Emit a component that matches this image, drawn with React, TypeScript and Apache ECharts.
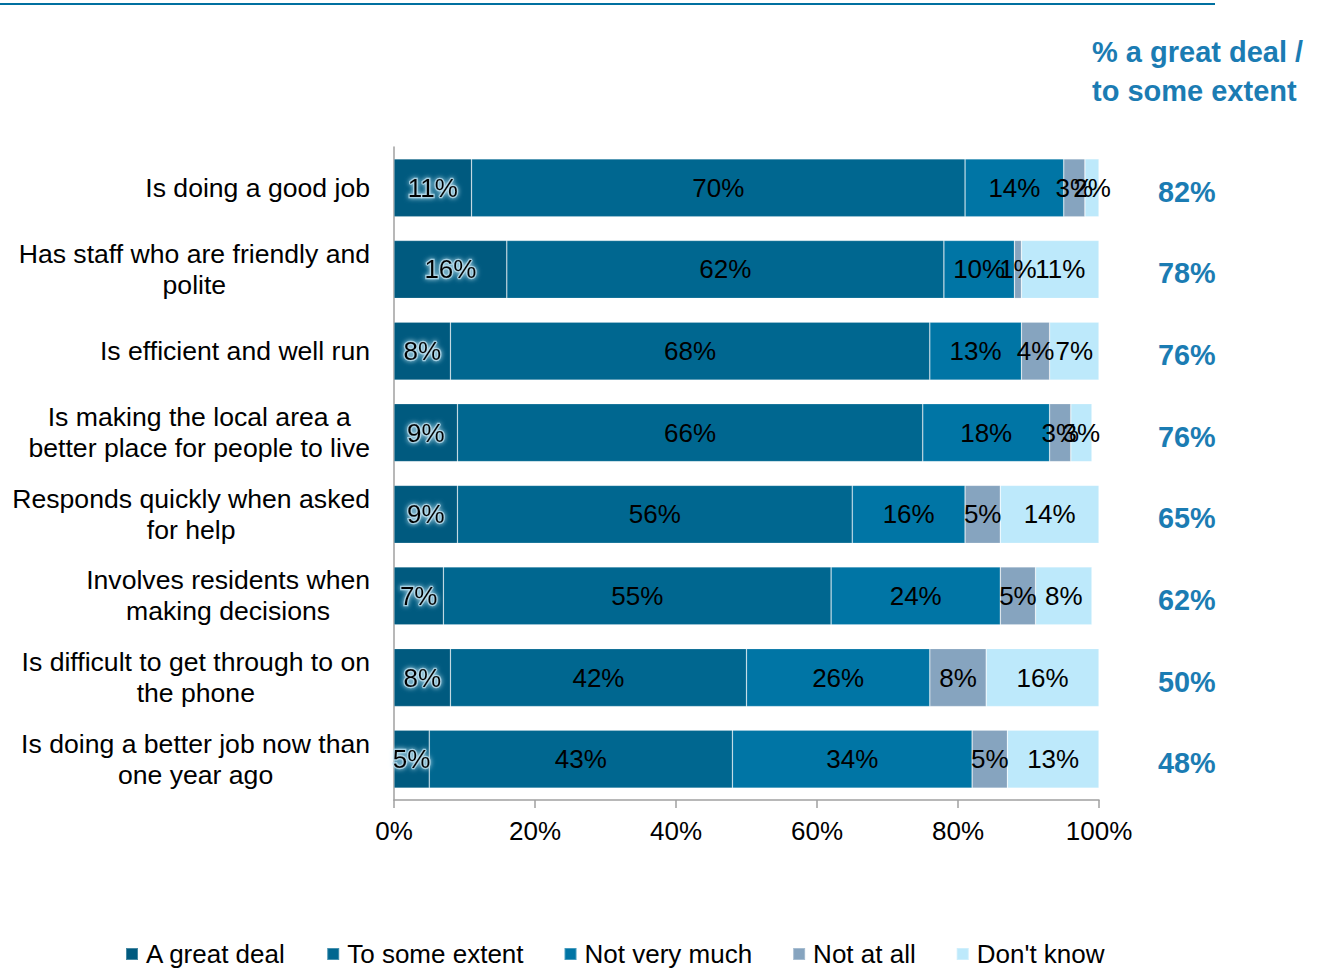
import React, { useEffect, useRef } from "react";
import * as echarts from "echarts";

const categories = [
  "Is doing a good job",
  "Has staff who are friendly and\npolite",
  "Is efficient and well run",
  "Is making the local area a\nbetter place for people to live",
  "Responds quickly when asked\nfor help",
  "Involves residents when\nmaking decisions",
  "Is difficult to get through to on\nthe phone",
  "Is doing a better job now than\none year ago",
];

const seriesNames = ["A great deal", "To some extent", "Not very much", "Not at all", "Don't know"];
const greatDeal = [11, 16, 8, 9, 9, 7, 8, 5];
const someExtent = [70, 62, 68, 66, 56, 55, 42, 43];
const notVeryMuch = [14, 10, 13, 18, 16, 24, 26, 34];
const notAtAll = [3, 1, 4, 3, 5, 5, 8, 5];
const dontKnow = [2, 11, 7, 3, 14, 8, 16, 13];
const totals = [82, 78, 76, 76, 65, 62, 50, 48];
const xTicks = [0, 20, 40, 60, 80, 100];

const colors = ["#005A7F", "#006790", "#0075A5", "#86A4BF", "#BDE9FB"];
const FONT = '"Liberation Sans", Arial, sans-serif';

export default function App() {
  const ref = useRef<HTMLDivElement>(null);
  useEffect(() => {
    if (!ref.current) return;
    const chart = echarts.init(ref.current, undefined, { renderer: "svg" });
    const dataSets = [greatDeal, someExtent, notVeryMuch, notAtAll, dontKnow];
    const series = dataSets.map((d, i) => ({
      name: seriesNames[i],
      type: "bar",
      stack: "total",
      barWidth: "71%",
      data: d,
      itemStyle: { color: colors[i], borderColor: "rgba(255,255,255,0.28)", borderWidth: 0.7 },
      label: {
        show: true,
        position: "inside",
        formatter: (p: any) => p.value + "%",
        fontFamily: FONT,
        fontSize: 26,
        color: "#000",
        ...(i === 0
          ? {
              textBorderColor: "rgba(190,225,242,0.75)",
              textBorderWidth: 2.5,
              textShadowColor: "rgba(205,235,248,1)",
              textShadowBlur: 5,
            }
          : { textBorderWidth: 0 }),
      },
      emphasis: { disabled: true },
    }));
    chart.setOption({
      animation: false,
      textStyle: { fontFamily: FONT },
      grid: { left: 394, right: 224, top: 147, bottom: 171, containLabel: false },
      xAxis: {
        type: "value",
        min: 0,
        max: 100,
        interval: 20,
        splitLine: { show: false },
        axisLine: { show: true, lineStyle: { color: "#a0a0a0", width: 1.5 } },
        axisTick: { show: true, length: 8, lineStyle: { color: "#a0a0a0", width: 1.5 } },
        axisLabel: {
          formatter: (v: number) => (xTicks.includes(v) ? v + "%" : ""),
          fontSize: 26,
          color: "#000",
          margin: 18,
          fontFamily: FONT,
        },
      },
      yAxis: [
        {
          type: "category",
          inverse: true,
          data: categories,
          axisLine: { show: true, lineStyle: { color: "#a0a0a0", width: 1.5 } },
          axisTick: { show: false },
          axisLabel: {
            margin: 24,
            align: "right",
            formatter: (v: string) => v.split("\n").map((l) => `{c|${l}}`).join("\n"),
            rich: {
              c: { align: "center", fontSize: 26.6, lineHeight: 31, color: "#000", fontFamily: FONT },
            },
          },
        },
        {
          type: "category",
          inverse: true,
          position: "right",
          data: categories,
          axisLine: { show: false },
          axisTick: { show: false },
          axisLabel: {
            margin: 59,
            align: "left",
            formatter: (_v: string, i: number) => `{t|${totals[i]}%}`,
            rich: {
              t: {
                fontSize: 28.8,
                fontWeight: "bold",
                color: "#1B7CB3",
                fontFamily: FONT,
                padding: [8, 0, 0, 0],
              },
            },
          },
        },
      ],
      legend: {
        left: 120,
        top: 936,
        itemWidth: 12,
        itemHeight: 12,
        itemGap: 40,
        icon: "rect",
        data: seriesNames,
        textStyle: { fontSize: 26, color: "#000", fontFamily: FONT, padding: [0, 0, 0, 3] },
      },
      graphic: [
        {
          type: "line",
          shape: { x1: 0, y1: 4, x2: 1215, y2: 4 },
          style: { stroke: "#0070A0", lineWidth: 2 },
        },
        {
          type: "text",
          left: 1092,
          top: 32,
          style: {
            text: "% a great deal /\nto some extent",
            fontSize: 29,
            fontWeight: "bold",
            fill: "#1B7CB3",
            lineHeight: 39,
            fontFamily: FONT,
          },
        },
      ],
      series,
    });
    return () => chart.dispose();
  }, []);
  return (
    <div
      ref={ref}
      style={{ position: "absolute", left: 0, top: 0, width: 1323, height: 971, background: "#fff" }}
    />
  );
}
